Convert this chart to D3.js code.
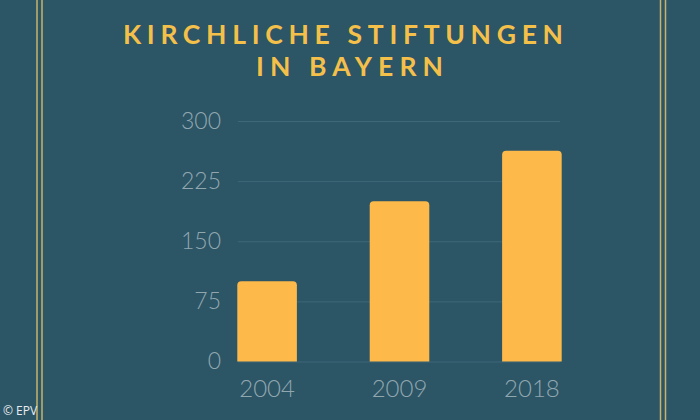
<!DOCTYPE html>
<html>
<head>
<meta charset="utf-8">
<script src="https://cdn.jsdelivr.net/npm/d3@7"></script>
<style>
  html, body { margin: 0; padding: 0; background: #2c5566; }
  svg { display: block; }
</style>
</head>
<body>
<script>
// Chart data
const years = ['2004', '2009', '2018'];
const counts = [100, 200, 263];
const yTicks = [0, 75, 150, 225, 300];
const titleLines = ['KIRCHLICHE STIFTUNGEN', 'IN BAYERN'];
const credit = '© EPV';

const width = 700, height = 420;

const svg = d3.select('body').append('svg')
  .attr('width', width)
  .attr('height', height);

svg.append('rect')
  .attr('width', width)
  .attr('height', height)
  .attr('fill', '#2c5566');

// double frame lines left and right
[37, 42, 660.5, 665.5].forEach(x => {
  svg.append('line')
    .attr('x1', x).attr('x2', x)
    .attr('y1', 0).attr('y2', height)
    .attr('stroke', '#c7b46c')
    .attr('stroke-width', 1.5);
});

// Title
const titleWidths = [440, 187];
const titleX = [343, 349.5];
const titleY = [43.5, 76];
titleLines.forEach((t, i) => {
  svg.append('text')
    .attr('x', titleX[i])
    .attr('y', titleY[i])
    .attr('text-anchor', 'middle')
    .attr('font-family', 'Lato, "Open Sans", sans-serif')
    .attr('font-size', 26.5)
    .attr('font-weight', 700)
    .attr('fill', '#f5c04a')
    .attr('textLength', titleWidths[i])
    .attr('lengthAdjust', 'spacing')
    .text(t);
});

// Scales
const x = d3.scaleBand()
  .domain(years)
  .range([237.3, 561.7])
  .paddingInner(0.55)
  .paddingOuter(0);

const y = d3.scaleLinear()
  .domain([0, 300])
  .range([361.5, 121]);

// gridlines
svg.append('g')
  .selectAll('line')
  .data(yTicks)
  .join('line')
  .attr('x1', 238)
  .attr('x2', 560)
  .attr('y1', d => y(d) + 0.5)
  .attr('y2', d => y(d) + 0.5)
  .attr('stroke', '#3d6979')
  .attr('stroke-width', 1);

// y axis labels
const yAxis = svg.append('g')
  .attr('transform', 'translate(221,0)')
  .call(d3.axisLeft(y).tickValues(yTicks).tickSize(0).tickPadding(0));
yAxis.select('.domain').remove();
yAxis.selectAll('text')
  .attr('font-family', 'Lato, sans-serif')
  .attr('font-weight', 300)
  .attr('font-size', 23)
  .attr('fill', '#91a7b0');

// bars
svg.append('g')
  .selectAll('path')
  .data(years)
  .join('path')
  .attr('d', (d, i) => {
    const x0 = x(d), w = x.bandwidth();
    const top = y(counts[i]), bottom = y(0), r = 4;
    return `M${x0},${bottom}V${top + r}Q${x0},${top} ${x0 + r},${top}` +
      `H${x0 + w - r}Q${x0 + w},${top} ${x0 + w},${top + r}V${bottom}Z`;
  })
  .attr('fill', '#fdb94a');

// x axis labels
const xAxis = svg.append('g')
  .attr('transform', 'translate(0,380)')
  .call(d3.axisBottom(x).tickSize(0).tickPadding(0));
xAxis.select('.domain').remove();
xAxis.selectAll('text')
  .attr('font-family', 'Lato, sans-serif')
  .attr('font-weight', 300)
  .attr('font-size', 24)
  .attr('fill', '#91a7b0');

// credit
svg.append('text')
  .attr('x', 3)
  .attr('y', 415)
  .attr('font-family', '"Open Sans", sans-serif')
  .attr('font-size', 12)
  .attr('fill', '#e8eef0')
  .text(credit);
</script>
</body>
</html>
